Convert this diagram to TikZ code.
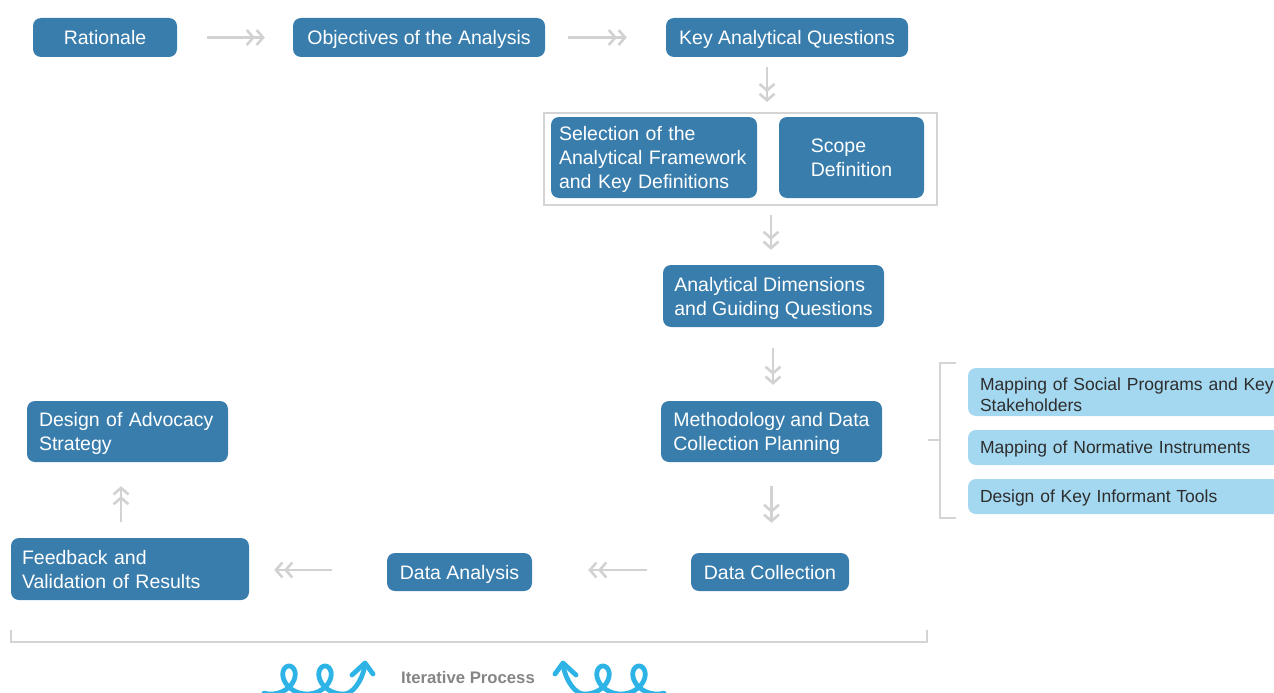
\documentclass[tikz,border=0pt]{standalone}
\usepackage{fontspec}
\setmainfont{Liberation Sans}
\usetikzlibrary{arrows.meta}
\definecolor{boxblue}{RGB}{57,125,173}
\definecolor{sideblue}{RGB}{164,216,240}
\definecolor{arrowgray}{RGB}{210,210,210}
\definecolor{linegray}{RGB}{212,212,212}
\definecolor{swirlblue}{RGB}{45,179,230}
\definecolor{labelgray}{RGB}{133,133,133}
\definecolor{sidetext}{RGB}{45,45,45}
\begin{document}
\begin{tikzpicture}[x=1pt,y=-1pt,
  stepbox/.style={fill=boxblue, rounded corners=8pt, text=white,
    font=\fontsize{19.5}{24}\selectfont, inner ysep=0pt},
  onebox/.style={stepbox, text height=14pt, text depth=0pt},
  twobox/.style={stepbox, text height=14pt, text depth=24pt},
  threebox/.style={stepbox, text height=14pt, text depth=48pt},
  sidebox/.style={fill=sideblue, rounded corners=8pt, text=sidetext,
    font=\fontsize{17.5}{21}\selectfont, text width=306pt, inner xsep=12pt,
    inner ysep=0pt, align=left, text height=12.5pt, text depth=0pt},
  groupframe/.style={draw=linegray, line width=2pt, inner sep=0pt},
  bracket/.style={draw=linegray, line width=2pt},
  flow/.style={draw=arrowgray, line width=2.6pt,
    -{Straight Barb[length=6.5pt,width=15pt,sep=0.3pt] Straight Barb[length=6.5pt,width=15pt]}},
  swirls/.pic={
    \draw[swirlblue, line width=4.8pt, line cap=round, line join=round]
      plot[domain=-3.5:9.5, samples=160, smooth, variable=\t]
        ({289+5.73*\t-14*sin(\t r)},{680-14*cos(\t r)})
      .. controls (352,694) and (362,682) .. (365,665);
    \draw[swirlblue, line width=4.8pt, line cap=round, line join=round]
      (352,675) -- (365,663) -- (373,674);
  }
]
\useasboundingbox (0,0) rectangle (1274,693);
\begin{scope}
\clip (0,0) rectangle (1274,693);

% top row
\node[onebox, minimum width=144pt, minimum height=39pt] (rat) at (105,37.5) {Rationale};
\node[onebox, minimum width=252pt, minimum height=39pt] (obj) at (419,37.5) {Objectives of the Analysis};
\node[onebox, minimum width=242pt, minimum height=39pt] (kaq) at (787,37.5) {Key Analytical Questions};

% framework and scope group
\node[groupframe, minimum width=393pt, minimum height=92pt] (frame) at (740.5,159) {};
\node[threebox, text width=190pt, inner xsep=8pt, minimum height=81pt, align=left] (sel) at (654,157.5)
  {Selection of the\\Analytical Framework\\and Key Definitions};
\node[stepbox, text depth=0pt, minimum width=145pt, minimum height=81pt, align=left] (scope) at (851.5,157.5)
  {Scope\\Definition};

% right column
\node[stepbox, text depth=0pt, minimum width=221pt, minimum height=62pt, align=left] (dims) at (773.5,296)
  {Analytical Dimensions\\and Guiding Questions};
\node[stepbox, text depth=0pt, minimum width=221pt, minimum height=61pt, align=left] (meth) at (771.5,431.5)
  {Methodology and Data\\Collection Planning};
\node[onebox, minimum width=158pt, minimum height=38pt] (dc) at (770,572) {Data Collection};

% bottom row and left column
\node[onebox, minimum width=145pt, minimum height=38pt] (da) at (459.5,572) {Data Analysis};
\node[twobox, text width=216pt, inner xsep=11pt, minimum height=62pt, align=left] (fb) at (130,569)
  {Feedback and\\Validation of Results};
\node[twobox, text width=177pt, inner xsep=12pt, minimum height=61pt, align=left] (adv) at (127.5,431.5)
  {Design of Advocacy\\Strategy};

% methodology sub-steps
\node[sidebox, minimum height=48pt, text depth=15pt] (s1) at (1133,392) {Mapping of Social Programs and Key\\Stakeholders};
\node[sidebox, minimum height=35pt] (s2) at (1133,447.5) {Mapping of Normative Instruments};
\node[sidebox, minimum height=35pt] (s3) at (1133,496.5) {Design of Key Informant Tools};

% flow arrows
\draw[flow, shorten <=30pt, shorten >=28pt] (rat.east) -- (obj.west);
\draw[flow, shorten <=23pt, shorten >=39pt] (obj.east) -- (kaq.west);
\draw[flow, shorten <=10pt, shorten >=10pt] ([xshift=-20pt]kaq.south) -- ([xshift=-20pt]kaq.south |- frame.north);
\draw[flow, shorten <=9pt, shorten >=15pt] ([xshift=-2.5pt]dims.north |- frame.south) -- ([xshift=-2.5pt]dims.north);
\draw[flow, shorten <=21pt, shorten >=16pt] ([xshift=-0.5pt]dims.south) -- ([xshift=-0.5pt]dims.south |- meth.north);
\draw[flow, shorten <=24pt, shorten >=30pt] (meth.south) -- (meth.south |- dc.north);
\draw[flow, shorten <=44pt, shorten >=56pt] ([yshift=2pt]dc.west) -- ([yshift=2pt]da.east);
\draw[flow, shorten <=55pt, shorten >=25pt] ([yshift=2pt]da.west) -- ([yshift=2pt]da.west -| fb.east);
\draw[flow, shorten <=16pt, shorten >=24pt] ([xshift=-6.5pt]adv.south |- fb.north) -- ([xshift=-6.5pt]adv.south);

% bracket grouping the sub-steps
\coordinate (brtop) at (956,363);
\coordinate (brbot) at (956,518);
\coordinate (brmid) at (928,440);
\draw[bracket] (brtop) -- (940,363) -- (940,518) -- (brbot);
\draw[bracket] (brmid) -- (940,440);

% bracket under the whole cycle
\coordinate (cycL) at (11,630);
\coordinate (cycR) at (927,630);
\draw[bracket] (cycL) -- (11,642) -- (927,642) -- (cycR);

% iterative process label with swirls
\node[font=\bfseries\fontsize{16.7}{20}\selectfont, text=labelgray] (iter) at (468,678) {Iterative Process};
\pic at (0,0) {swirls};
\pic[xscale=-1] at (928,0) {swirls};
\end{scope}
\end{tikzpicture}
\end{document}
